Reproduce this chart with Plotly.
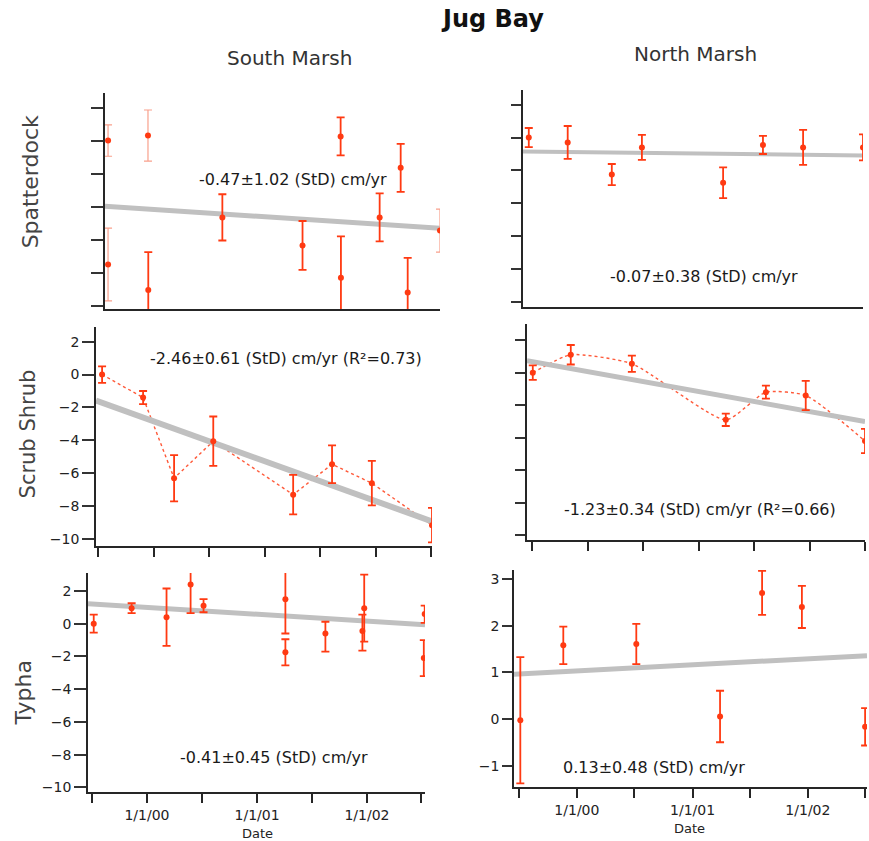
import plotly.graph_objects as go

W, H = 869, 841

# ---------------- data ----------------
# South Marsh - Spatterdock (y axis unlabeled; ticks every 2 cm, 2 .. -10)
sm_spat_dates = ["1999-07-08", "1999-07-08", "1999-11-16", "1999-11-17", "2000-07-17", "2001-04-06",
                 "2001-08-09", "2001-08-10", "2001-12-15", "2002-02-22", "2002-03-17", "2002-07-01"]
sm_spat_vals = [0.0, -7.5, 0.3, -9.05, -4.65, -6.35, 0.25, -8.3, -4.65, -1.65, -9.2, -5.45]
sm_spat_err = [0.95, 2.2, 1.55, 2.3, 1.4, 1.48, 1.15, 2.5, 1.45, 1.45, 2.1, 1.3]
sm_spat_fit_dates = ["1999-06-28", "2002-07-01"]
sm_spat_fit_vals = [-3.98, -5.31]

# North Marsh - Spatterdock
nm_spat_dates = ["1999-07-04", "1999-11-09", "2000-04-02", "2000-07-10", "2001-04-03",
                 "2001-08-12", "2001-12-22", "2002-07-07"]
nm_spat_vals = [0.0, -0.3, -2.25, -0.6, -2.75, -0.45, -0.6, -0.6]
nm_spat_err = [0.58, 1.0, 0.64, 0.76, 0.94, 0.55, 1.06, 0.79]
nm_spat_fit_dates = ["1999-06-15", "2002-07-07"]
nm_spat_fit_vals = [-0.85, -1.09]

# South Marsh - Scrub Shrub
sm_scrub_dates = ["1999-07-14", "1999-11-26", "2000-03-07", "2000-07-14", "2001-04-03",
                  "2001-08-09", "2001-12-18", "2002-07-04"]
sm_scrub_vals = [0.0, -1.4, -6.3, -4.05, -7.3, -5.45, -6.6, -9.15]
sm_scrub_err = [0.5, 0.4, 1.4, 1.5, 1.2, 1.15, 1.35, 1.05]
sm_scrub_fit_dates = ["1999-06-24", "2002-07-04"]
sm_scrub_fit_vals = [-1.58, -8.92]

# North Marsh - Scrub Shrub
nm_scrub_dates = ["1999-07-04", "1999-11-06", "2000-05-25", "2001-03-30", "2001-08-09",
                  "2001-12-18", "2002-07-01"]
nm_scrub_vals = [0.0, 1.1, 0.55, -2.9, -1.2, -1.4, -4.2]
nm_scrub_err = [0.45, 0.6, 0.5, 0.38, 0.4, 0.9, 0.75]
nm_scrub_fit_dates = ["1999-06-15", "2002-07-01"]
nm_scrub_fit_vals = [0.73, -3.0]

# South Marsh - Typha
sm_typha_dates = ["1999-07-08", "1999-11-11", "2000-03-06", "2000-05-25", "2000-07-07", "2001-04-05",
                  "2001-04-05", "2001-08-16", "2001-12-23", "2001-12-17", "2002-07-12", "2002-07-09"]
sm_typha_vals = [0.0, 0.95, 0.4, 2.4, 1.1, 1.5, -1.75, -0.6, 0.95, -0.45, 0.6, -2.1]
sm_typha_err_plus = [0.55, 0.3, 1.75, 1.75, 0.4, 2.1, 0.8, 0.72, 2.05, 1.0, 0.5, 1.1]
sm_typha_err_minus = [0.55, 0.3, 1.75, 1.75, 0.4, 2.1, 0.8, 1.1, 2.05, 1.2, 0.55, 1.1]
sm_typha_fit_dates = ["1999-06-19", "2002-07-13"]
sm_typha_fit_vals = [1.22, -0.06]

# North Marsh - Typha
nm_typha_dates = ["1999-07-06", "1999-11-19", "2000-07-07", "2001-03-29", "2001-08-09",
                  "2001-12-13", "2002-07-01"]
nm_typha_vals = [-0.02, 1.58, 1.61, 0.06, 2.7, 2.4, -0.16]
nm_typha_err = [1.35, 0.4, 0.43, 0.55, 0.47, 0.45, 0.4]
nm_typha_fit_dates = ["1999-06-16", "2002-07-07"]
nm_typha_fit_vals = [0.96, 1.36]

# text
fig_title = "Jug Bay"
col_titles = ["South Marsh", "North Marsh"]
row_titles = ["Spatterdock", "Scrub Shrub", "Typha"]
rate_texts = ["-0.47±1.02 (StD) cm/yr", "-0.07±0.38 (StD) cm/yr",
              "-2.46±0.61 (StD) cm/yr (R²=0.73)", "-1.23±0.34 (StD) cm/yr (R²=0.66)",
              "-0.41±0.45 (StD) cm/yr", "0.13±0.48 (StD) cm/yr"]
date_tickvals = ["1999-07-01", "2000-01-01", "2000-07-01", "2001-01-01", "2001-07-01", "2002-01-01", "2002-07-01"]
date_ticktext = ["", "1/1/00", "", "1/1/01", "", "1/1/02", ""]
cm_ticks = [-10, -8, -6, -4, -2, 0, 2]
typha_nm_ticks = [-1, 0, 1, 2, 3]
x_title = "Date"

# ---------------- styling / layout ----------------
RED = "#ff3a12"
LIGHT_RED = "#f9a08c"
GRAY = "#c0c0c0"
AX = "#262626"
FONT = "DejaVu Sans"

# panel pixel boxes: (x0, x1, y0_top, y1_bottom)
boxes = [
    (105, 440, 93, 310),   # TL
    (523, 863, 90, 308),   # TR
    (96, 432, 328, 548),   # ML
    (527, 865, 325, 542),  # MR
    (88, 425, 575, 795),   # BL
    (514, 867, 572, 790),  # BR
]
xranges = [
    ["1999-06-28", "2002-07-01"],
    ["1999-06-15", "2002-07-07"],
    ["1999-06-24", "2002-07-04"],
    ["1999-06-15", "2002-07-01"],
    ["1999-06-19", "2002-07-13"],
    ["1999-06-16", "2002-07-07"],
]
yranges = [
    [-10.19, 2.9],
    [-10.3, 2.91],
    [-10.42, 2.9],
    [-10.29, 3.0],
    [-10.29, 3.1],
    [-1.45, 3.19],
]

fig = go.Figure()


def xd(a, b):
    return [a / W, b / W]


def yd(top, bot):
    return [1 - bot / H, 1 - top / H]


def fit_trace(i, d, v, width=5):
    ax = "" if i == 0 else str(i + 1)
    fig.add_trace(go.Scatter(x=d, y=v, mode="lines", line=dict(color=GRAY, width=width),
                             xaxis="x" + ax, yaxis="y" + ax, hoverinfo="skip"))


def pts_trace(i, d, v, ep, em=None, color=RED, ew=1.8):
    ax = "" if i == 0 else str(i + 1)
    err = dict(type="data", array=ep, symmetric=em is None, color=color, thickness=ew, width=4)
    if em is not None:
        err["arrayminus"] = em
    fig.add_trace(go.Scatter(x=d, y=v, mode="markers",
                             marker=dict(color=RED, size=6, symbol="circle"),
                             error_y=err, xaxis="x" + ax, yaxis="y" + ax))


def dotted_trace(i, d, v, shape="linear"):
    ax = "" if i == 0 else str(i + 1)
    fig.add_trace(go.Scatter(x=d, y=v, mode="lines",
                             line=dict(color="#ff5a3a", width=1.4, dash="dot", shape=shape, smoothing=0.55),
                             xaxis="x" + ax, yaxis="y" + ax, hoverinfo="skip"))


# Panel 0: SM Spatterdock (some error bars drawn lighter in the original)
light = [0, 1, 2, 11]
fit_trace(0, sm_spat_fit_dates, sm_spat_fit_vals)
pts_trace(0, [sm_spat_dates[k] for k in light], [sm_spat_vals[k] for k in light],
          [sm_spat_err[k] for k in light], color=LIGHT_RED, ew=1.2)
normal = [k for k in range(len(sm_spat_dates)) if k not in light]
pts_trace(0, [sm_spat_dates[k] for k in normal], [sm_spat_vals[k] for k in normal],
          [sm_spat_err[k] for k in normal])

# Panel 1: NM Spatterdock
fit_trace(1, nm_spat_fit_dates, nm_spat_fit_vals, width=4)
pts_trace(1, nm_spat_dates, nm_spat_vals, nm_spat_err)

# Panel 2: SM Scrub Shrub
dotted_trace(2, sm_scrub_dates, sm_scrub_vals)
fit_trace(2, sm_scrub_fit_dates, sm_scrub_fit_vals, width=6)
pts_trace(2, sm_scrub_dates, sm_scrub_vals, sm_scrub_err)

# Panel 3: NM Scrub Shrub
dotted_trace(3, nm_scrub_dates, nm_scrub_vals, shape="spline")
fit_trace(3, nm_scrub_fit_dates, nm_scrub_fit_vals, width=5)
pts_trace(3, nm_scrub_dates, nm_scrub_vals, nm_scrub_err)

# Panel 4: SM Typha
fit_trace(4, sm_typha_fit_dates, sm_typha_fit_vals)
pts_trace(4, sm_typha_dates, sm_typha_vals, sm_typha_err_plus, sm_typha_err_minus)

# Panel 5: NM Typha
fit_trace(5, nm_typha_fit_dates, nm_typha_fit_vals)
pts_trace(5, nm_typha_dates, nm_typha_vals, nm_typha_err)

layout = dict(
    width=W, height=H, margin=dict(l=0, r=0, t=0, b=0),
    paper_bgcolor="white", plot_bgcolor="white", showlegend=False,
    font=dict(family=FONT, size=13, color="#222"),
)

for i, (x0, x1, y0, y1) in enumerate(boxes):
    ax = "" if i == 0 else str(i + 1)
    row = i // 2
    left = i % 2 == 0
    xa = dict(domain=xd(x0, x1), anchor="y" + ax, type="date", range=xranges[i],
              showline=True, linecolor=AX, linewidth=1.6, showgrid=False, zeroline=False,
              fixedrange=True)
    if row == 0:
        xa.update(ticks="", showticklabels=False)
    else:
        xa.update(ticks="outside", ticklen=9, tickwidth=1.6, tickcolor=AX,
                  tickmode="array", tickvals=date_tickvals, ticktext=date_ticktext,
                  showticklabels=(row == 2), tickfont=dict(size=14, family=FONT, color="#222"))
    ya = dict(domain=yd(y0, y1), anchor="x" + ax, range=yranges[i],
              showline=True, linecolor=AX, linewidth=1.6, showgrid=False, zeroline=False,
              ticks="outside", ticklen=12 if left else 10, tickwidth=1.6, tickcolor="#333",
              tickmode="array", tickvals=typha_nm_ticks if i == 5 else cm_ticks,
              showticklabels=i in (2, 4, 5), tickfont=dict(size=14, family=FONT, color="#222"),
              fixedrange=True)
    layout["xaxis" + ax] = xa
    layout["yaxis" + ax] = ya

annotations = []


def ann(text, x, y, size, angle=0, bold=False, color="#222"):
    annotations.append(dict(text=("<b>%s</b>" % text) if bold else text, x=x / W, y=1 - y / H,
                            xref="paper", yref="paper", showarrow=False, textangle=angle,
                            xanchor="center", yanchor="middle",
                            font=dict(family=FONT, size=size, color=color)))


ann(fig_title, 492, 19, 24, bold=True, color="#111")
ann(col_titles[0], 289, 58, 20, color="#333")
ann(col_titles[1], 695, 54, 20, color="#333")
ann(row_titles[0], 30, 183, 22, angle=-90, color="#444")
ann(row_titles[1], 28, 436, 21, angle=-90, color="#444")
ann(row_titles[2], 24, 696, 22, angle=-90, color="#444")
rate_pos = [(293, 180), (704, 277), (286, 360), (700, 511), (274, 760), (654, 770)]
for t, (px, py) in zip(rate_texts, rate_pos):
    ann(t, px, py, 16, color="#1a1a1a")
ann(x_title, 257, 836, 13)
ann(x_title, 689, 831, 13)
layout["annotations"] = annotations

fig.update_layout(**layout)
fig.write_html("out.html", config={"displayModeBar": False},
               post_script="document.body.style.margin='0';document.body.style.overflow='hidden';")
